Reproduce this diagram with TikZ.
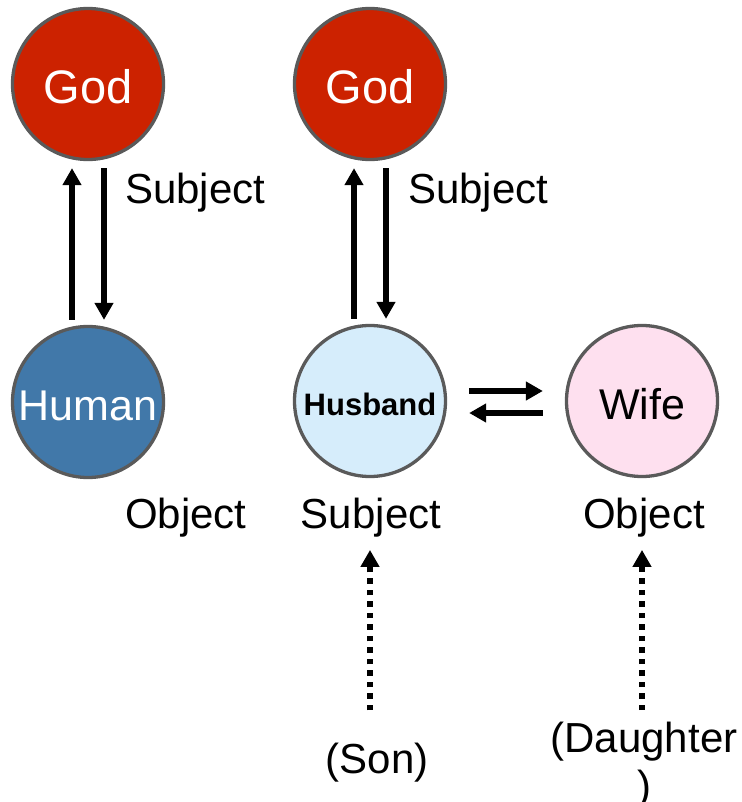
\documentclass[tikz,border=0pt]{standalone}
\usepackage{fontspec}
\setmainfont{Liberation Sans}
\usetikzlibrary{arrows.meta,calc,positioning}
\definecolor{godRed}{HTML}{CC2200}
\definecolor{humanBlue}{HTML}{4178A9}
\definecolor{husbandSky}{HTML}{D6EDFB}
\definecolor{wifePink}{HTML}{FEE0EF}
\definecolor{orbLine}{HTML}{5A5A5A}
\begin{document}
\begin{tikzpicture}[x=1pt,y=-1pt,>={Triangle[width=18pt,length=17pt]}]
\useasboundingbox[fill=white] (0,0) rectangle (741,802);
\tikzset{orb/.style={circle,draw=orbLine,line width=3.3pt,minimum size=151pt,inner sep=0pt,text height=37pt,text depth=0pt,font=\fontsize{43}{50}\selectfont},tag/.style={font=\fontsize{42}{50}\selectfont,inner sep=0pt},solidarrow/.style={draw=black,line width=5.5pt,->},dotarrow/.style={draw=black,line width=5.5pt,dash pattern=on 5.5pt off 6pt,->}}
\node[orb,fill=godRed,text=white,text height=40pt,font=\fontsize{47}{54}\selectfont] (godL) at (88,84) {God};
\node[orb,fill=godRed,text=white,text height=40pt,font=\fontsize{47}{54}\selectfont] (godR) at (370,84) {God};
\node[orb,fill=humanBlue,text=white] (human) at (88,402) {Human};
\node[orb,fill=husbandSky,text height=29pt,font=\bfseries\fontsize{31}{36}\selectfont] (husb) at (370,401) {Husband};
\node[orb,fill=wifePink] (wife) at (642,401) {Wife};
\node[tag,anchor=base west] (subjL) at (125,204) {Subject}; \node[tag,anchor=base west] (subjR) at (408,204) {Subject};
\node[tag,anchor=base west] (objL) at (125,528) {Object}; \node[tag,anchor=base] (subjH) at (371,528) {Subject}; \node[tag,anchor=base] (objW) at (644,528) {Object};
\node[tag,anchor=base] (son) at (377,773) {(Son)};
\node[tag,anchor=north,align=center,font=\fontsize{42}{48}\selectfont] (daughter) at (644,722) {(Daughter\\)};
\draw[solidarrow] ($(human.north)+(-16,-5)$) -- ($(godL.south)+(-16,7)$); \draw[solidarrow] ($(godL.south)+(16,7)$) -- ($(human.north)+(16,-5)$);
\draw[solidarrow] ($(husb.north)+(-16,-5)$) -- ($(godR.south)+(-16,7)$); \draw[solidarrow] ($(godR.south)+(16,7)$) -- ($(husb.north)+(16,-5)$);
\draw[solidarrow] ($(husb.east)+(22,-10)$) -- ($(wife.west)+(-22,-10)$); \draw[solidarrow] ($(wife.west)+(-22,12)$) -- ($(husb.east)+(22,12)$);
\draw[dotarrow] ($(son.north -| husb.center)+(0,-32)$) -- ($(subjH.south -| husb.center)+(0,13)$);
\draw[dotarrow] ($(daughter.north -| wife.center)+(0,-12)$) -- ($(objW.south -| wife.center)+(0,13)$);
\end{tikzpicture}
\end{document}
